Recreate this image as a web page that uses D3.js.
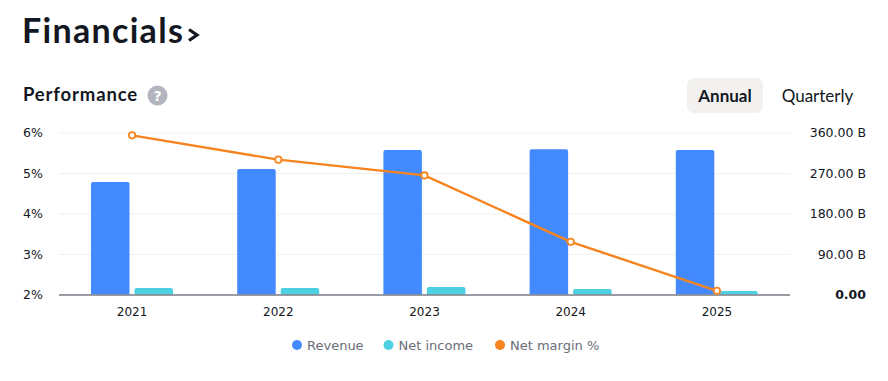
<!DOCTYPE html>
<html><head><meta charset="utf-8">
<script src="https://cdn.jsdelivr.net/npm/d3@7"></script>
<style>
html,body{margin:0;padding:0;background:#fff;}
svg{display:block;}
</style></head>
<body>
<svg id="c" width="888" height="381"></svg>
<script>
const years = ["2021","2022","2023","2024","2025"];
const revenue = [250, 279, 321, 323, 321];      // billions
const netIncome = [14.4, 14.4, 16.7, 12.2, 7.8]; // billions
const netMargin = [5.93, 5.33, 4.94, 3.30, 2.09]; // percent
const leftTicks = [2,3,4,5,6];
const rightTicks = [0,90,180,270,360];
const seriesNames = ["Revenue","Net income","Net margin %"];
const seriesColors = ["#448aff","#4dd0e1","#f7841e"];

const svg = d3.select("#c");
const FONT = "'DejaVu Sans', sans-serif";
const x0 = 59, x1 = 790, yTop = 132.5, yBot = 294.5;

const x = d3.scaleBand().domain(years).range([x0, x1]);
const sub = d3.scaleBand().domain(["rev","ni"]).range([32, 114]).paddingInner(0.115);
const yL = d3.scaleLinear().domain([2,6]).range([yBot, yTop]);
const yR = d3.scaleLinear().domain([0,360]).range([yBot, yTop]);

// Title
svg.append("text").attr("x",22).attr("y",43).attr("font-family","Lato, sans-serif")
  .attr("font-weight",700).attr("font-size",34).attr("letter-spacing",1.3).attr("fill","#131722").text("Financials");
svg.append("path").attr("d","M189,29.5L197,35L189,40.5").attr("fill","none")
  .attr("stroke","#131722").attr("stroke-width",3.2).attr("stroke-linecap","butt").attr("stroke-linejoin","miter");
svg.append("text").attr("x",23).attr("y",101).attr("font-family","Lato, sans-serif")
  .attr("font-weight",700).attr("font-size",18.5).attr("letter-spacing",0.85).attr("fill","#131722").text("Performance");
svg.append("circle").attr("cx",157.5).attr("cy",95.5).attr("r",10).attr("fill","#b2b5be");
svg.append("text").attr("x",157.5).attr("y",101).attr("text-anchor","middle").attr("font-family",FONT)
  .attr("font-weight",700).attr("font-size",14).attr("fill","#fff").text("?");

// Buttons
svg.append("rect").attr("x",687).attr("y",78).attr("width",76).attr("height",35).attr("rx",7).attr("fill","#f2f1ef");
svg.append("text").attr("x",725).attr("y",102).attr("text-anchor","middle").attr("font-family","Lato, sans-serif")
  .attr("font-weight",700).attr("font-size",17).attr("fill","#131722").text("Annual");
svg.append("text").attr("x",817.5).attr("y",102).attr("text-anchor","middle").attr("font-family","Lato, sans-serif")
  .attr("font-weight",400).attr("font-size",17).attr("fill","#131722").text("Quarterly");

// Gridlines
const grid = svg.append("g").attr("transform",`translate(${x0},0)`)
  .call(d3.axisLeft(yL).tickValues(leftTicks.filter(d=>d>2)).tickSize(-(x1-x0)).tickFormat(""));
grid.select(".domain").remove();
grid.selectAll("line").attr("stroke","#f0f0f0").attr("stroke-width",1);

// Left axis
const la = svg.append("g").attr("transform","translate(23,0)")
  .call(d3.axisLeft(yL).tickValues(leftTicks).tickSize(0).tickFormat(d=>d+"%"));
la.select(".domain").remove();
la.selectAll("text").attr("x",0).attr("text-anchor","start").attr("font-family",FONT)
  .attr("font-size",12.5).attr("fill","#131722");

// Right axis
const ra = svg.append("g").attr("transform","translate(866,0)")
  .call(d3.axisLeft(yR).tickValues(rightTicks).tickSize(0).tickFormat(d=>d===0?"0.00":d.toFixed(2)+" B"));
ra.select(".domain").remove();
ra.selectAll("text").attr("x",0).attr("text-anchor","end").attr("font-family",FONT)
  .attr("font-size",12.5).attr("fill","#131722").attr("font-weight",d=>d===0?700:400);

// Bars
function topRounded(bx, by, w, h, r){
  r = Math.min(r, h, w/2);
  return `M${bx},${by+h}V${by+r}Q${bx},${by} ${bx+r},${by}H${bx+w-r}Q${bx+w},${by} ${bx+w},${by+r}V${by+h}Z`;
}
const bars = svg.append("g");
years.forEach((yr,i)=>{
  const bx = x(yr);
  [["rev",revenue[i],seriesColors[0]],["ni",netIncome[i],seriesColors[1]]].forEach(([k,v,c])=>{
    const y = yR(v);
    bars.append("path").attr("d",topRounded(bx+sub(k), y, sub.bandwidth(), yR(0)-y, 2)).attr("fill",c);
  });
});

// Baseline
svg.append("line").attr("x1",x0).attr("x2",x1).attr("y1",yBot+0.5).attr("y2",yBot+0.5)
  .attr("stroke","#787b86").attr("stroke-width",1.5);

// X axis
const xa = svg.append("g").attr("transform",`translate(0,${yBot})`)
  .call(d3.axisBottom(x).tickSize(0).tickPadding(13));
xa.select(".domain").remove();
xa.selectAll("text").attr("font-family",FONT).attr("font-size",12).attr("fill","#131722");

// Line
const pts = years.map((yr,i)=>[x(yr)+x.bandwidth()/2, yL(netMargin[i])]);
svg.append("path").attr("d",d3.line()(pts)).attr("fill","none").attr("stroke",seriesColors[2]).attr("stroke-width",2.4);
svg.append("g").selectAll("circle").data(pts).join("circle")
  .attr("cx",d=>d[0]).attr("cy",d=>d[1]).attr("r",3.2).attr("fill","#fff")
  .attr("stroke",seriesColors[2]).attr("stroke-width",1.8);

// Legend
const legX = [297, 388.5, 500];
const lg = svg.append("g");
seriesNames.forEach((n,i)=>{
  lg.append("circle").attr("cx",legX[i]).attr("cy",345).attr("r",5).attr("fill",seriesColors[i]);
  lg.append("text").attr("x",legX[i]+10).attr("y",349.5).attr("font-family",FONT).attr("font-size",13)
    .attr("fill","#6a6d78").text(n);
});
</script>
</body></html>
